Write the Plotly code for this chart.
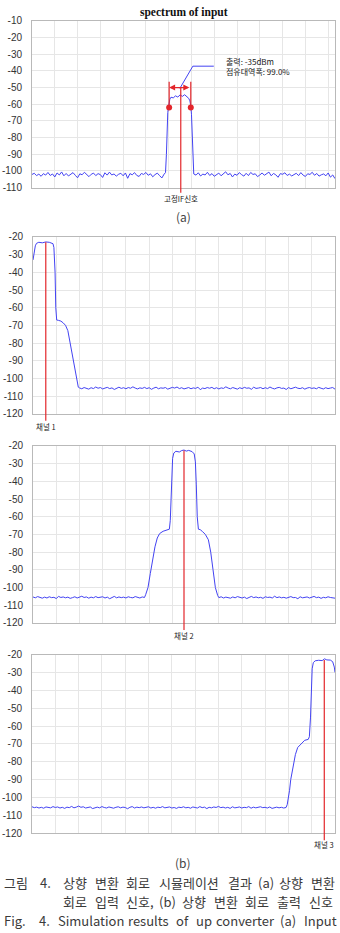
import numpy as np
import plotly.graph_objects as go

W, H = 340, 933

# ---------------- data ----------------
# y-axis tick labels
c1_tickvals = [-10, -20, -30, -40, -50, -60, -70, -80, -90, -100, -110]
c1_ticktext = ["-10", "-20", "-30", "-40", "-50", "-60", "-70", "-80", "-90", "-100", "-110"]
cb_tickvals = [-20, -30, -40, -50, -60, -70, -80, -90, -100, -110, -120]
cb_ticktext = ["-20", "-30", "-40", "-50", "-60", "-70", "-80", "-90", "-100", "-110", "-120"]

# chart (a): spectrum of input
c1_noise_left_start = 0.0
c1_noise_left = [-102.1, -101.4, -102.8, -101.9, -103.2, -101.6, -102.5, -100.9, -102.7, -101.8,
                 -103.6, -101.2, -102.4, -100.6, -102.9, -101.5, -103.0, -102.2, -101.0, -102.6,
                 -104.1, -101.7, -102.3, -100.8, -101.9, -103.4, -102.0, -101.3, -102.8, -101.6,
                 -102.2, -103.9, -101.1, -102.5, -100.7, -102.4, -101.8, -103.1, -102.0, -101.4,
                 -102.9, -101.2, -104.4, -101.6, -102.3, -101.0, -102.7, -103.3, -101.5, -102.1,
                 -100.9, -102.6, -101.7, -103.5, -102.2, -101.3, -102.8, -104.2, -101.9]
c1_band_x = [5.86, 5.9, 5.93, 5.96, 6.0, 6.05, 6.1, 6.2, 6.3, 6.4, 6.5, 6.6, 6.7, 6.8, 6.88, 6.93, 6.97, 7.0, 7.03, 7.05, 7.08]
c1_band_y = [-101, -90, -75, -65, -61, -57, -55.8, -56.2, -55.0, -55.7, -54.4, -55.3, -54.3, -55.4, -56.5, -58, -61, -66, -78, -92, -100]
c1_noise_right_start = 7.1
c1_noise_right = [-101.8, -102.5, -101.1, -103.0, -101.9, -102.4, -100.8, -102.7, -101.6, -103.2,
                  -102.0, -101.3, -102.9, -101.7, -100.5, -102.3, -101.5, -103.6, -101.9, -102.6,
                  -101.0, -102.2, -103.1, -101.4, -102.8, -100.9, -102.1, -101.7, -103.4, -102.4,
                  -101.2, -102.6, -101.8, -100.7, -102.9, -101.5, -102.3, -103.8, -101.6, -102.0,
                  -101.1, -102.7, -101.9, -103.0, -102.2, -101.4, -102.8, -101.0, -102.5, -103.3,
                  -101.7, -102.1, -100.8, -102.6, -101.5, -103.1, -102.3, -101.8, -102.9, -101.2,
                  -103.7, -102.4, -104.6]
c1_if_center = 6.53
c1_obw_edges = [6.02, 6.97]
c1_obw_level = -62
c1_arrow_level = -50
c1_leader_x = [6.49, 7.06, 7.98]
c1_leader_y = [-50.5, -37.2, -37.2]
c1_note_text = "출력: -35dBm<br>점유대역폭: 99.0%"
c1_note_y = -37.2
c1_note_x = 8.42

# chart (b)-1: channel 1
c2_band_x = [0.0, 0.05, 0.1, 0.15, 0.25, 0.4, 0.55, 0.7, 0.8, 0.86, 0.9, 0.95, 0.98, 1.02, 1.1, 1.2, 1.3, 1.4, 1.5, 1.6, 1.7, 1.8, 1.9, 1.95]
c2_band_y = [-33, -28, -25, -23.6, -23.0, -23.3, -22.8, -23.0, -23.3, -23.8, -26, -40, -60, -67, -67.2, -67.6, -68.6, -70, -73, -80, -88, -96, -103, -105]
c2_noise_start = 2.0
c2_noise = [-105.4, -105.9, -105.2, -105.7, -106.1, -105.3, -105.8, -104.9, -105.6, -105.2,
            -106.0, -105.5, -105.1, -105.8, -105.4, -106.3, -105.6, -105.0, -105.7, -105.3,
            -105.9, -105.2, -105.6, -104.8, -105.5, -106.0, -105.4, -105.7, -105.1, -105.8,
            -105.3, -106.2, -105.5, -105.0, -105.9, -105.4, -105.6, -105.2, -106.1, -105.7,
            -105.1, -105.5, -104.9, -105.8, -105.3, -106.0, -105.6, -105.2, -105.9, -105.4,
            -105.7, -105.0, -106.4, -105.5, -105.8, -105.2, -105.6, -105.1, -105.9, -105.3,
            -106.0, -105.4, -105.7, -104.8, -105.5, -105.9, -105.2, -105.6, -106.1, -105.3,
            -105.8, -105.1, -105.6, -105.4, -106.2, -105.0, -105.7, -105.5, -105.2, -105.9,
            -105.3, -105.8, -104.9, -105.6, -106.0, -105.4, -105.1, -105.7, -105.5, -106.3,
            -105.2, -105.9, -105.4, -105.0, -105.6, -105.8, -105.3, -106.1, -105.5, -105.2,
            -105.7, -105.4, -105.9, -105.1, -105.6, -106.0, -105.3, -105.8, -105.5, -105.2,
            -106.1]
c2_channel = 0.55
c2_channel_top = -23

# chart (b)-2: channel 2
c3_noise_left_start = 0.0
c3_noise_left = [-105.3, -105.8, -105.1, -105.6, -106.0, -105.4, -105.9, -105.2, -105.7, -105.5,
                 -106.2, -105.0, -105.6, -105.3, -105.8, -105.4, -106.1, -105.7, -105.2, -105.9,
                 -105.5, -104.9, -105.6, -105.3, -106.0, -105.4, -105.8, -105.1, -105.7, -105.5,
                 -105.2, -105.9, -105.4, -106.3, -105.6, -105.0, -105.8, -105.3, -105.7, -105.4,
                 -105.9, -105.2, -105.6, -105.8, -105.1, -105.5, -105.9, -105.3, -105.6]
c3_band_x = [4.85, 4.95, 5.05, 5.15, 5.25, 5.35, 5.45, 5.6, 5.75, 5.87, 5.91, 5.94, 5.97, 6.01, 6.06, 6.15, 6.3, 6.4, 6.5, 6.6, 6.7, 6.85, 6.94, 6.99, 7.03, 7.07, 7.12, 7.2, 7.3, 7.42, 7.55, 7.65, 7.75, 7.85, 7.95]
c3_band_y = [-104, -100, -92, -84, -77, -72, -69.5, -68.2, -67.5, -67, -62, -48, -35, -27, -24, -23, -23.4, -22.6, -22.3, -22.9, -22.5, -23.2, -24.5, -29, -42, -60, -67, -67.3, -68.4, -70, -73, -80, -90, -100, -104.5]
c3_noise_right_start = 8.0
c3_noise_right = [-105.7, -105.2, -105.9, -105.4, -105.6, -106.0, -105.3, -105.8, -105.1, -105.5,
                  -105.9, -105.4, -106.2, -105.6, -105.0, -105.7, -105.3, -105.8, -105.5, -106.1,
                  -105.2, -105.6, -105.4, -105.9, -104.9, -105.7, -105.3, -105.8, -105.5, -106.0,
                  -105.4, -105.1, -105.7, -105.6, -106.3, -105.2, -105.8, -105.5, -105.3, -105.9,
                  -105.6, -105.0, -105.7, -105.4, -106.1, -105.5, -105.8, -105.2, -105.6, -105.9,
                  -106.0]
c3_channel = 6.5
c3_channel_top = -22.5

# chart (b)-3: channel 3
c4_noise_start = 0.0
c4_noise = [-105.2, -105.7, -105.4, -105.9, -105.5, -106.0, -105.3, -105.6, -105.8, -105.1,
            -105.6, -105.3, -105.9, -105.5, -106.1, -105.4, -105.7, -105.0, -105.8, -105.4,
            -104.8, -105.5, -105.2, -105.9, -105.6, -105.3, -106.2, -105.7, -105.4, -105.8,
            -105.1, -105.6, -105.9, -105.3, -105.7, -106.0, -105.5, -105.2, -105.8, -105.4,
            -105.6, -106.3, -105.5, -105.1, -105.9, -105.4, -105.7, -105.3, -105.8, -105.6,
            -105.2, -105.9, -105.5, -106.0, -105.4, -105.7, -105.1, -105.8, -105.5, -105.3,
            -105.9, -105.6, -106.1, -105.4, -105.7, -105.2, -105.8, -105.5, -106.0, -105.3,
            -105.6, -105.9, -105.1, -105.7, -105.4, -106.2, -105.5, -105.8, -105.3, -105.6,
            -105.0, -105.7, -105.4, -105.9, -105.5, -106.1, -105.2, -105.8, -105.6, -105.3,
            -105.9, -105.5, -105.7, -105.1, -106.0, -105.4, -105.8, -105.6, -105.2, -105.7,
            -105.5, -105.9, -105.3, -106.1, -105.6, -105.4, -105.8, -105.5, -105.9, -105.6]
c4_band_x = [10.95, 11.0, 11.05, 11.1, 11.2, 11.3, 11.4, 11.5, 11.6, 11.7, 11.85, 11.9, 11.95, 11.98, 12.02, 12.07, 12.15, 12.3, 12.45, 12.55, 12.65, 12.8, 12.9, 12.97, 13.0]
c4_band_y = [-104, -101, -96, -90, -82, -76, -72, -70.5, -69, -68, -67.5, -66, -55, -40, -28, -24.5, -23.5, -23.2, -23.4, -22.4, -23.0, -23.1, -24, -27, -30]
c4_channel = 12.54
c4_channel_top = -23

x_ranges = [[0, 13.3], [0, 13], [0, 13], [0, 13]]
y_ranges = [[-110, -10], [-120, -20], [-120, -20], [-120, -20]]

title_text = "spectrum of input"
channel_labels = ["채널 1", "채널 2", "채널 3"]
if_label = "고정IF신호"
sub_labels = ["(a)", "(b)"]
caption_1_head = ["그림", "4."]
caption_1_words = ["상향", "변환", "회로", "시뮬레이션", "결과", "(a)", "상향", "변환"]
caption_2_words = ["회로", "입력", "신호,", "(b)", "상향", "변환", "회로", "출력", "신호"]
caption_3_head = ["Fig.", "4."]
caption_3_words = ["Simulation", "results", "of", "up", "converter", "(a)", "Input"]

# ---------------- helpers ----------------
STEP = 0.1


def grid(start, n):
    return [round(start + STEP * i, 3) for i in range(n)]


def py(p):
    return 1 - p / H


def px(p):
    return p / W


def est_width(word, fs):
    w = 0.0
    for ch in word:
        o = ord(ch)
        if 0xAC00 <= o <= 0xD7A3:
            w += fs
        elif ch in "()":
            w += 0.3 * fs
        elif ch in ",.":
            w += 0.25 * fs
        elif ch in "iljft r":
            w += 0.27 * fs
        elif ch in "mw":
            w += 0.78 * fs
        elif ch.isupper():
            w += 0.58 * fs
        else:
            w += 0.5 * fs
    return w


def justify(words, fs, left, right):
    widths = [est_width(w, fs) for w in words]
    gap = (right - left - sum(widths)) / (len(words) - 1)
    centers = []
    x = left
    for wd in widths:
        centers.append(x + wd / 2)
        x += wd + gap
    return centers


BLUE = "#4343f2"
RED = "#e3262b"
GRID = "#e6e6e6"
FRAME = "#b9b9b9"
KFONT = "Noto Sans CJK KR"

fig = go.Figure()

# series
s1x = grid(c1_noise_left_start, len(c1_noise_left)) + c1_band_x + grid(c1_noise_right_start, len(c1_noise_right))
s1y = c1_noise_left + c1_band_y + c1_noise_right
s2x = c2_band_x + grid(c2_noise_start, len(c2_noise))
s2y = c2_band_y + c2_noise
s3x = grid(c3_noise_left_start, len(c3_noise_left)) + c3_band_x + grid(c3_noise_right_start, len(c3_noise_right))
s3y = c3_noise_left + c3_band_y + c3_noise_right
s4x = grid(c4_noise_start, len(c4_noise)) + c4_band_x
s4y = c4_noise + c4_band_y

for i, (sx, sy) in enumerate([(s1x, s1y), (s2x, s2y), (s3x, s3y), (s4x, s4y)]):
    suf = "" if i == 0 else str(i + 1)
    fig.add_trace(go.Scatter(x=sx, y=sy, mode="lines", line=dict(color=BLUE, width=1),
                             xaxis="x" + suf, yaxis="y" + suf, showlegend=False, hoverinfo="skip"))

# red OBW dots on chart (a)
fig.add_trace(go.Scatter(x=c1_obw_edges, y=[c1_obw_level, c1_obw_level], mode="markers",
                         marker=dict(color=RED, size=6), xaxis="x", yaxis="y",
                         showlegend=False, hoverinfo="skip"))
# blue leader line
fig.add_trace(go.Scatter(x=c1_leader_x, y=c1_leader_y, mode="lines",
                         line=dict(color=BLUE, width=1), xaxis="x", yaxis="y",
                         showlegend=False, hoverinfo="skip"))

# domains (pixel positions of plot frames)
x_dom = [[px(32), px(335)], [px(33), px(335)], [px(33), px(335)], [px(32), px(335)]]
y_dom = [[py(184), py(15)], [py(413), py(234)], [py(625), py(445.7)], [py(838), py(657)]]

layout = dict(width=W, height=H, autosize=False, margin=dict(l=0, r=0, t=0, b=0),
              paper_bgcolor="white", plot_bgcolor="white", showlegend=False)
for i in range(4):
    suf = "" if i == 0 else str(i + 1)
    tv, tt = (c1_tickvals, c1_ticktext) if i == 0 else (cb_tickvals, cb_ticktext)
    layout["xaxis" + suf] = dict(domain=x_dom[i], range=x_ranges[i], anchor="y" + suf,
                                 showticklabels=False, tick0=0, dtick=1, showgrid=True,
                                 gridcolor=GRID, gridwidth=1, zeroline=False, showline=True,
                                 linecolor=FRAME, linewidth=1, mirror=True, ticks="")
    layout["yaxis" + suf] = dict(domain=y_dom[i], range=y_ranges[i], anchor="x" + suf,
                                 tickvals=tv, ticktext=tt, showgrid=True, gridcolor=GRID,
                                 gridwidth=1, zeroline=False, showline=True, linecolor=FRAME,
                                 linewidth=1, mirror=True, ticks="", ticklabelstandoff=7,
                                 tickfont=dict(family="Liberation Sans, Arial", size=10, color="#333"))
fig.update_layout(**layout)


def dom_frac(val, rng):
    return (val - rng[0]) / (rng[1] - rng[0])


shapes = []
annotations = []

# chart (a) red marks
shapes.append(dict(type="line", xref="x", yref="y domain", x0=c1_if_center, x1=c1_if_center,
                   y0=dom_frac(c1_arrow_level, y_ranges[0]), y1=-0.03, line=dict(color=RED, width=1.2)))
for e in c1_obw_edges:
    shapes.append(dict(type="line", xref="x", yref="y", x0=e, x1=e, y0=-46.5, y1=c1_obw_level,
                       line=dict(color=RED, width=1.2)))
annotations.append(dict(xref="x", yref="y", axref="x", ayref="y", x=c1_obw_edges[0], y=c1_arrow_level,
                        ax=c1_obw_edges[1], ay=c1_arrow_level, text="", showarrow=True,
                        arrowhead=2, arrowside="end+start", arrowsize=1, arrowwidth=1.2,
                        arrowcolor=RED, standoff=0, startstandoff=0))
annotations.append(dict(xref="x", yref="y", x=c1_note_x, y=c1_note_y, text=c1_note_text, showarrow=False,
                        xanchor="left", yanchor="middle", align="left",
                        font=dict(family=KFONT, size=8, color="#222")))
annotations.append(dict(xref="x", yref="y domain", x=c1_if_center, y=-0.065, text=if_label,
                        showarrow=False, xanchor="center", yanchor="middle",
                        font=dict(family=KFONT, size=7.5, color="#222")))

# channel lines
for i, (cx, ctop, lab, ly) in enumerate([(c2_channel, c2_channel_top, channel_labels[0], -0.073),
                                         (c3_channel, c3_channel_top, channel_labels[1], -0.073),
                                         (c4_channel, c4_channel_top, channel_labels[2], -0.062)]):
    suf = str(i + 2)
    shapes.append(dict(type="line", xref="x" + suf, yref="y" + suf + " domain", x0=cx, x1=cx,
                       y0=dom_frac(ctop, y_ranges[i + 1]), y1=-0.04, line=dict(color=RED, width=1.2)))
    annotations.append(dict(xref="x" + suf, yref="y" + suf + " domain", x=cx, y=ly, text=lab,
                            showarrow=False, xanchor="center", yanchor="middle",
                            font=dict(family=KFONT, size=7.5, color="#222")))

# title
annotations.append(dict(xref="paper", yref="paper", x=px(183.5), y=py(7), text="<b>" + title_text + "</b>",
                        showarrow=False, xanchor="center", yanchor="middle",
                        font=dict(family="Liberation Serif", size=11.5, color="#111")))
# sub labels
annotations.append(dict(xref="paper", yref="paper", x=px(183), y=py(213), text=sub_labels[0],
                        showarrow=False, xanchor="center", yanchor="middle",
                        font=dict(family=KFONT, size=12, color="#444")))
annotations.append(dict(xref="paper", yref="paper", x=px(183), y=py(868), text=sub_labels[1],
                        showarrow=False, xanchor="center", yanchor="middle",
                        font=dict(family=KFONT, size=12, color="#444")))

# caption (justified word by word)
CAP_FS = 13
cap_font = dict(family=KFONT, size=CAP_FS, color="#3a3a3a")


def word_ann(text, xc, yp, anchor="center"):
    return dict(xref="paper", yref="paper", x=px(xc), y=py(yp), text=text, showarrow=False,
                xanchor=anchor, yanchor="middle", font=cap_font)


annotations.append(word_ann(caption_1_head[0], 2, 888, "left"))
annotations.append(word_ann(caption_1_head[1], 38, 888, "left"))
for t, c in zip(caption_1_words, justify(caption_1_words, CAP_FS, 62, 336)):
    annotations.append(word_ann(t, c, 888))
for t, c in zip(caption_2_words, justify(caption_2_words, CAP_FS, 62, 334)):
    annotations.append(word_ann(t, c, 907))
annotations.append(word_ann(caption_3_head[0], 2, 926, "left"))
annotations.append(word_ann(caption_3_head[1], 37, 926, "left"))
for t, c in zip(caption_3_words, justify(caption_3_words, CAP_FS, 62, 336)):
    annotations.append(word_ann(t, c, 926))

fig.update_layout(shapes=shapes, annotations=annotations)
fig.write_html("out.html")
